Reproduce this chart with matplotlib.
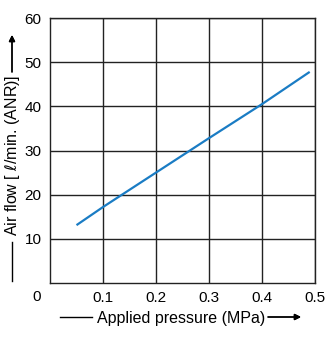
import matplotlib.pyplot as plt
from matplotlib.lines import Line2D

plt.rcParams['font.family'] = ['Liberation Sans', 'DejaVu Sans']

# Air flow vs applied pressure
pressure = [0.05, 0.1, 0.2, 0.3, 0.4, 0.49]
air_flow = [13.1, 17.2, 25.0, 32.8, 40.5, 47.8]

x_ticks = [0.1, 0.2, 0.3, 0.4, 0.5]
y_ticks = [10, 20, 30, 40, 50, 60]

W, H = 329, 337
fig = plt.figure(figsize=(W / 100, H / 100), dpi=100)
ax = fig.add_axes([50 / W, 1 - 283 / H, 265 / W, 265 / H])

ax.plot(pressure, air_flow, color='#1a7cc4', linewidth=1.6, solid_capstyle='butt')

ax.set_xlim(0, 0.5)
ax.set_ylim(0, 60)
ax.set_xticks(x_ticks)
ax.set_yticks(y_ticks)
ax.set_xticklabels([f"{t:.1f}" for t in x_ticks], fontsize=11)
ax.set_yticklabels([str(t) for t in y_ticks], fontsize=11)
ax.tick_params(length=0, pad=6)
ax.grid(True, color='#222222', linewidth=1.0)
for s in ax.spines.values():
    s.set_color('#222222')
    s.set_linewidth(1.0)

# origin label
fig.text(37 / W, 1 - 297 / H, "0", fontsize=11, ha='center', va='center')


def arrow(x0, y0, x1, y1):
    # thin line ending in a small filled head, in figure pixels (top-left origin)
    fig.add_artist(plt.annotate('', xy=(x1, H - y1), xytext=(x0, H - y0),
                                xycoords='figure pixels', textcoords='figure pixels',
                                arrowprops=dict(arrowstyle='-|>', color='black', lw=1.0,
                                                mutation_scale=9, shrinkA=0, shrinkB=0)))


def line(x0, y0, x1, y1):
    fig.add_artist(Line2D([x0 / W, x1 / W], [1 - y0 / H, 1 - y1 / H],
                          transform=fig.transFigure, color='black', linewidth=1.0))


# x label with leading line and trailing arrow
fig.text(181 / W, 1 - 318 / H, "Applied pressure (MPa)", fontsize=11.5,
         ha='center', va='center')
line(60, 317, 92, 317)
arrow(268, 317, 301, 317)

# y label with leading line and trailing arrow
fig.text(13 / W, 1 - 155 / H, "Air flow [ $\\ell$/min. (ANR)]", fontsize=11.5,
         ha='center', va='center', rotation=90)
line(12, 242, 12, 281)
arrow(12, 72, 12, 35)

fig.savefig('out.png', dpi=100)
